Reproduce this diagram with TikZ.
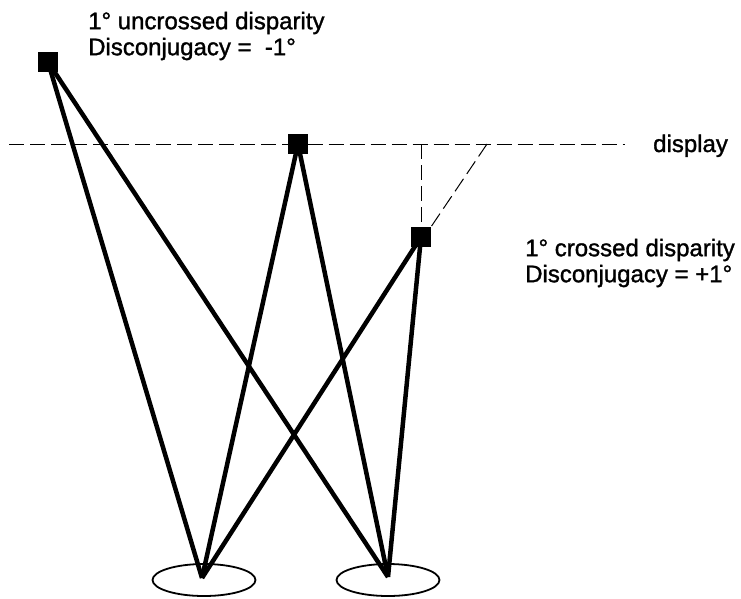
\documentclass[tikz,border=0pt]{standalone}
\usepackage{fontspec}
\setmainfont{Liberation Sans}
\newfontfamily\lblfont{Liberation Sans}[FakeBold=1.3]
\usetikzlibrary{positioning}
\usetikzlibrary{shapes.geometric}

\begin{document}
\begin{tikzpicture}[x=1pt, y=-1pt,
        target/.style={draw, fill=black, rectangle, minimum size=19pt, inner sep=0pt},
        eye/.style={draw, ellipse, line width=1.8pt, minimum width=103pt, minimum height=32pt, inner sep=0pt},
        ray/.style={line width=4.5pt},
        guide/.style={line width=1pt, dash pattern=on 15pt off 6pt},
        lbl/.style={font=\lblfont\fontsize{24}{26}\selectfont, inner sep=0pt, align=left}]
    \useasboundingbox (0,0) rectangle (741,598);

    % eyes
    \node[eye] (E1) at (204, 580) {};
    \node[eye] (E2) at (388, 580) {};
    \coordinate (L) at (202, 578);
    \coordinate (R) at (388, 577);

    % display plane
    \coordinate (D1) at (9, 144);
    \coordinate (D2) at (625, 144);
    \coordinate (P) at (487, 144);

    % targets
    \node[target] (S1) at (48, 62) {};
    \node[target] (S2) at (298, 144) {};
    \node[target] (S3) at (421, 237) {};

    \node[lbl, anchor=west] (T1) at (88, 36) {1° uncrossed disparity\\Disconjugacy = \ -1°};
    \node[lbl, anchor=base west] (disp) at (653, 152) {display};
    \node[lbl, anchor=west] (T2) at (525, 263) {1° crossed disparity\\Disconjugacy = +1°};

    \begin{scope}[guide]
        \draw (D1) -- (S2);
        \draw (S2) -- (D2);
        \draw (S3 |- D1) -- (S3.north);
        \draw (P) -- (S3.north east);
    \end{scope}

    \begin{scope}[ray]
        \draw (L) -- (S1.center);
        \draw (L) -- (S2.center);
        \draw (L) -- (S3.center);
        \draw (R) -- (S1.center);
        \draw (R) -- (S2.center);
        \draw (R) -- (S3.center);
    \end{scope}
\end{tikzpicture}
\end{document}
